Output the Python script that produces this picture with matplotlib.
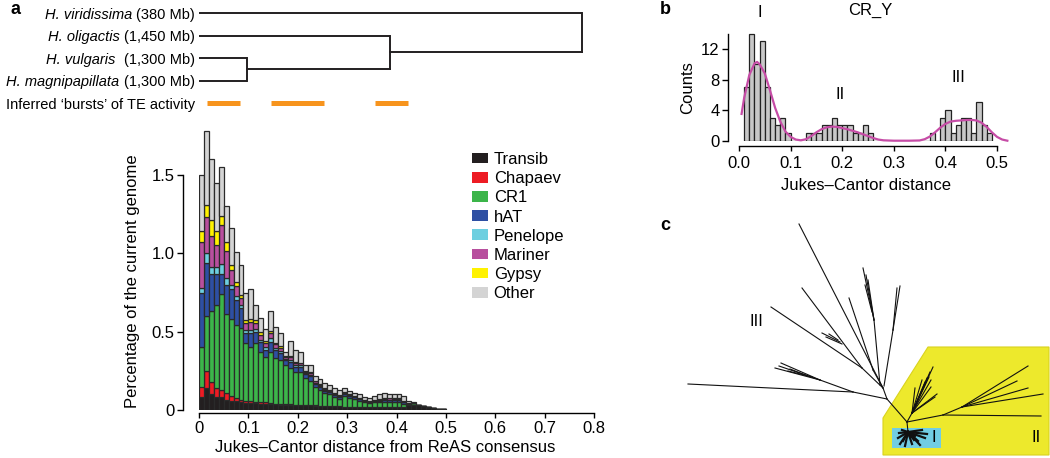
import matplotlib
matplotlib.use('Agg')
import matplotlib.pyplot as plt
from matplotlib.patches import Patch, Polygon, Rectangle
import numpy as np

plt.rcParams['font.family'] = ['Liberation Sans', 'DejaVu Sans']
plt.rcParams['axes.linewidth'] = 1.0

# ---------------- data: panel a (stacked TE histogram) ----------------
bin_width = 0.01
categories = ['Transib', 'Chapaev', 'CR1', 'hAT', 'Penelope', 'Mariner', 'Gypsy', 'Other']
colors = ['#231f20', '#ed1c24', '#3cb54a', '#2e4fa3', '#6dcfe0', '#b84f9e', '#fff200', '#d4d4d4']

transib = [.08, .14, .10, .08, .08, .065, .06, .055, .05, .045,
           .045, .043, .04, .04, .038, .036, .035, .034, .033, .032,
           .031, .03, .03, .028, .027, .026, .025, .024, .023, .022,
           .021, .02, .02, .019, .018, .018, .018, .018, .018, .018,
           .018, .02, .03, .035, .032, .028, .02, .012, .008, .004]
chapaev = [.07, .11, .08, .06, .05, .045, .03, .02, .015, .01,
           .01, .009, .008, .008, .006, .005, .004, .006, .003, .003,
           .003, .002, .002, .002, .001, .001, .001, .001, 0, 0,
           0, 0, 0, 0, 0, 0, 0, 0, 0, 0,
           0, 0, 0, 0, 0, 0, 0, 0, 0, 0]
cr1 = [.25, .35, .45, .53, .61, .50, .49, .47, .46, .37,
       .345, .374, .324, .288, .328, .289, .281, .247, .23, .21,
       .211, .17, .153, .119, .10, .079, .074, .06, .05, .068,
       .058, .05, .04, .03, .025, .03, .032, .035, .033, .035,
       .032, .02, .01, .008, 0, 0, 0, 0, 0, 0]
hat = [.345, .34, .24, .20, .13, .19, .19, .16, .125, .065,
       .09, .07, .06, .05, .065, .05, .045, .03, .04, .03,
       .03, .025, .03, .02, .02, .018, .015, .013, .012, .012,
       .01, .01, .01, .01, .008, .01, .01, .012, .012, .012,
       .012, .01, .004, .003, 0, 0, 0, 0, 0, 0]
penelope = [.035, .06, .04, .04, .06, .045, .03, .02, .02, .02,
            .02, .02, .018, .015, .02, .015, .012, .01, .012, .01,
            .01, .008, .008, .006, .006, .005, .005, .004, .004, .004,
            .004, .003, .003, .003, .003, .003, .003, .004, .004, .004,
            .004, .003, 0, 0, 0, 0, 0, 0, 0, 0]
mariner = [.29, .23, .20, .145, .25, .17, .095, .065, .045, .045,
           .05, .04, .03, .025, .035, .025, .02, .012, .018, .015,
           .012, .01, .012, .008, .008, .007, .006, .005, .005, .005,
           .004, .004, .004, .003, .003, .004, .006, .008, .007, .008,
           .007, .005, .002, 0, 0, 0, 0, 0, 0, 0]
gypsy = [.07, .08, .10, .085, .06, .055, .03, .03, .02, .02,
         .02, .02, .015, .012, .015, .01, .01, .006, .008, .006,
         .006, .005, .005, .004, .003, .003, .003, .003, .002, .002,
         .002, .002, .002, .002, .002, .002, .002, .002, .002, .002,
         .002, .002, 0, 0, 0, 0, 0, 0, 0, 0]
other = [.36, .47, .39, .31, .31, .23, .235, .19, .19, .17,
         .19, .094, .095, .082, .123, .10, .083, .025, .096, .074,
         .067, .04, .05, .033, .035, .031, .031, .03, .029, .027,
         .021, .021, .021, .018, .016, .023, .029, .031, .024, .026,
         .025, .03, .009, .007, 0, 0, 0, 0, 0, 0]
series = [transib, chapaev, cr1, hat, penelope, mariner, gypsy, other]
bin_left = [i * bin_width for i in range(len(transib))]

# dendrogram data
species = ['H. viridissima', 'H. oligactis', 'H. vulgaris ', 'H. magnipapillata']
sizes = ['(380 Mb)', '(1,450 Mb)', '(1,300 Mb)', '(1,300 Mb)']
node_vulg_magn = 0.097
node_olig = 0.387
node_root = 0.775
bursts = [(0.016, 0.084), (0.146, 0.253), (0.357, 0.424)]

# ---------------- data: panel b (CR_Y histogram) ----------------
b_bin_left = [0.01 + i * 0.01 for i in range(48)]
b_counts = [7, 14, 10, 13, 7, 3, 2, 3, 1, 0,
            0, 0, 1, 1, 1, 2, 2, 3, 2, 2,
            2, 1, 1, 2, 1, 0, 0, 0, 0, 0,
            0, 0, 0, 0, 0, 0, 1, 0, 3, 4,
            1, 2, 3, 3, 1, 5, 2, 1]
kde_x = [0.005, 0.01, 0.02, 0.03, 0.035, 0.04, 0.05, 0.06, 0.07, 0.08, 0.09, 0.10,
         0.11, 0.12, 0.13, 0.14, 0.15, 0.16, 0.17, 0.18, 0.19, 0.20, 0.21, 0.22,
         0.23, 0.24, 0.25, 0.26, 0.27, 0.28, 0.30, 0.33, 0.35, 0.36, 0.37, 0.38,
         0.39, 0.40, 0.41, 0.42, 0.43, 0.44, 0.45, 0.46, 0.47, 0.48, 0.49, 0.50,
         0.51, 0.52]
kde_y = [3.5, 5.6, 8.6, 10.1, 10.3, 10.0, 8.8, 6.6, 4.3, 2.5, 1.2, 0.5,
         0.15, 0.05, 0.2, 0.6, 1.1, 1.5, 1.75, 1.85, 1.8, 1.65, 1.5, 1.3,
         1.1, 0.85, 0.6, 0.35, 0.15, 0.05, 0.0, 0.0, 0.03, 0.2, 0.55, 1.1,
         1.7, 2.2, 2.5, 2.6, 2.65, 2.7, 2.72, 2.65, 2.35, 1.8, 1.1, 0.5,
         0.15, 0.0]

# ---------------- data: panel c (unrooted tree layout) ----------------
tree_segments = [
    (907, 422, 887, 399), (887, 399, 883, 388),
    (887, 399, 853, 392), (853, 392, 688, 384),
    (853, 392, 820, 380), (820, 380, 781, 363), (820, 380, 775, 368),
    (820, 380, 779, 366), (812, 377, 788, 371), (808, 376, 790, 369),
    (883, 388, 799, 224),
    (883, 388, 862, 368), (862, 368, 771, 307), (862, 368, 802, 288),
    (840, 342, 822, 333), (842, 344, 826, 337), (838, 340, 829, 334),
    (883, 388, 873, 370), (873, 370, 849, 298),
    (880, 385, 874, 320), (874, 320, 863, 268), (874, 320, 866, 275),
    (874, 320, 868, 280), (872, 312, 865, 285),
    (884, 386, 893, 330), (893, 330, 900, 286), (893, 330, 897, 288),
    (907, 422, 943, 415), (943, 415, 1041, 416),
    (943, 415, 962, 407), (962, 407, 1028, 366), (962, 407, 1017, 381),
    (962, 407, 1028, 388), (962, 407, 1043, 394),
    (907, 422, 912, 413),
    (912, 413, 933, 367), (912, 413, 929, 377), (912, 413, 927, 378),
    (912, 413, 937, 394), (912, 413, 935, 397), (912, 413, 931, 387),
    (912, 413, 915, 388), (912, 413, 925, 382), (912, 413, 931, 380),
    (912, 413, 930, 372), (912, 413, 922, 380),
    (907, 422, 908, 432),
]
blob_segments = [
    (908, 432, 898, 438), (908, 432, 900, 444), (908, 432, 905, 446),
    (908, 432, 912, 444), (908, 432, 918, 441), (908, 432, 925, 438),
    (908, 432, 927, 434), (908, 432, 922, 430), (908, 432, 902, 430),
    (908, 432, 899, 433), (908, 432, 915, 436), (908, 432, 920, 445),
    (908, 432, 903, 441), (908, 432, 914, 440), (908, 432, 910, 437),
]
yellow_region = [(883, 418), (928, 347), (1049, 347), (1049, 455), (883, 455)]
cyan_box = (892, 428, 941, 448)

# ---------------- figure ----------------
W, H = 1050, 458
fig = plt.figure(figsize=(10.5, 4.58), dpi=100)
PX = 72 / 100.0


def rect(l, t, r, b):
    return [l / W, 1 - b / H, (r - l) / W, (b - t) / H]


FS = 12
edge = '#2a2a2a'

# ---- panel a main
ax = fig.add_axes(rect(199, 128, 594, 410))
bottom = np.zeros(len(transib))
for vals, col in zip(series, colors):
    ax.bar(bin_left, vals, width=bin_width, bottom=bottom, align='edge',
           color=col, edgecolor=edge, linewidth=0.9)
    bottom = bottom + np.array(vals)
ax.set_xlim(0, 0.8)
ax.set_ylim(0, 1.8)
for s in ['top', 'right']:
    ax.spines[s].set_visible(False)
ax.spines['left'].set_position(('outward', 16 * PX))
ax.spines['bottom'].set_position(('outward', 3.3 * PX))
ax.spines['left'].set_bounds(0, 1.5)
ax.spines['bottom'].set_bounds(0, 0.8)
ax.set_yticks([0, 0.5, 1.0, 1.5])
ax.set_yticklabels(['0', '0.5', '1.0', '1.5'])
ax.set_xticks([0, 0.1, 0.2, 0.3, 0.4, 0.5, 0.6, 0.7, 0.8])
ax.set_xticklabels(['0', '0.1', '0.2', '0.3', '0.4', '0.5', '0.6', '0.7', '0.8'])
ax.tick_params(axis='y', direction='out', length=6.5 * PX, width=1, labelsize=FS, pad=2 * PX)
ax.tick_params(axis='x', direction='out', length=5 * PX, width=1, labelsize=FS, pad=3 * PX)
fig.text(385 / W, 1 - 447 / H, 'Jukes\u2013Cantor distance from ReAS consensus',
         ha='center', va='center', fontsize=FS)
fig.text(132 / W, 1 - 281 / H, 'Percentage of the current genome',
         ha='center', va='center', rotation=90, fontsize=FS)
handles = [Patch(facecolor=c, edgecolor='none') for c in colors]
ax.legend(handles, categories, loc='upper left', bbox_to_anchor=(472 / W, 1 - 152 / H),
          bbox_transform=fig.transFigure, frameon=False, fontsize=FS,
          handlelength=0.95, handleheight=0.6, handletextpad=0.35,
          labelspacing=0.25, borderpad=0, borderaxespad=0)

# ---- dendrogram
axd = fig.add_axes(rect(199, 0, 594, 115))
axd.set_xlim(0, 0.8)
axd.set_ylim(4.533, -0.578)
axd.axis('off')
lc = '#231f20'
lwd = 1.4
rows = [0, 1, 2, 3]
axd.plot([0, node_root], [0, 0], color=lc, lw=lwd, solid_capstyle='butt')
axd.plot([0, node_olig], [1, 1], color=lc, lw=lwd, solid_capstyle='butt')
axd.plot([0, node_vulg_magn], [2, 2], color=lc, lw=lwd, solid_capstyle='butt')
axd.plot([0, node_vulg_magn], [3, 3], color=lc, lw=lwd, solid_capstyle='butt')
y_vm = 2.5
y_ol = (1 + y_vm) / 2
axd.plot([node_vulg_magn, node_vulg_magn], [2, 3], color=lc, lw=lwd)
axd.plot([node_vulg_magn, node_olig], [y_vm, y_vm], color=lc, lw=lwd)
axd.plot([node_olig, node_olig], [1, y_vm], color=lc, lw=lwd)
axd.plot([node_olig, node_root], [y_ol, y_ol], color=lc, lw=lwd)
axd.plot([node_root, node_root], [0, y_ol], color=lc, lw=lwd)
for (b0, b1) in bursts:
    axd.plot([b0, b1], [4, 4], color='#f7941d', lw=5 * PX, solid_capstyle='butt')
LFS = 10.5
for r, sp, sz in zip(rows, species, sizes):
    t = axd.annotate(sz, xy=(0, r), xytext=(-4 * PX, 0), textcoords='offset points',
                     ha='right', va='center_baseline', fontsize=LFS)
    axd.annotate(sp, xy=(0, r), xycoords=(t, 'data'), xytext=(-3.2, 0),
                 textcoords='offset points', ha='right', va='center_baseline',
                 fontsize=LFS, style='italic')
axd.annotate('Inferred \u2018bursts\u2019 of TE activity', xy=(0, 4), xytext=(-4 * PX, 0),
             textcoords='offset points', ha='right', va='center_baseline', fontsize=LFS)

# ---- panel b
axb = fig.add_axes(rect(739, 29.8, 1012.5, 140.7))
axb.bar(b_bin_left, b_counts, width=0.01, align='edge', color='#c8c8c8',
        edgecolor='#222222', linewidth=0.9)
axb.plot(kde_x, kde_y, color='#c64ca6', lw=1.6, clip_on=False)
axb.set_xlim(0, 0.53)
axb.set_ylim(0, 14.5)
for s in ['top', 'right']:
    axb.spines[s].set_visible(False)
axb.spines['left'].set_position(('outward', 11 * PX))
axb.spines['bottom'].set_position(('outward', 5 * PX))
axb.spines['left'].set_bounds(0, 14)
axb.spines['bottom'].set_bounds(0, 0.5)
axb.set_yticks([0, 4, 8, 12])
axb.set_xticks([0, 0.1, 0.2, 0.3, 0.4, 0.5])
axb.set_xticklabels(['0.0', '0.1', '0.2', '0.3', '0.4', '0.5'])
axb.tick_params(axis='y', direction='out', length=6.5 * PX, width=1, labelsize=FS, pad=2 * PX)
axb.tick_params(axis='x', direction='out', length=5 * PX, width=1, labelsize=FS, pad=5 * PX)
fig.text(866 / W, 1 - 185 / H, 'Jukes\u2013Cantor distance', ha='center', va='center', fontsize=FS)
fig.text(688 / W, 1 - 88 / H, 'Counts', ha='center', va='center', rotation=90, fontsize=FS)
fig.text(870 / W, 1 - 10 / H, 'CR_Y', ha='center', va='center', fontsize=FS)
axb.text(0.04, 16.7, 'I', ha='center', va='center', fontsize=FS, clip_on=False)
axb.text(0.195, 6.0, 'II', ha='center', va='center', fontsize=FS, clip_on=False)
axb.text(0.425, 8.3, 'III', ha='center', va='center', fontsize=FS, clip_on=False)

# ---- panel c
axc = fig.add_axes(rect(660, 200, 1050, 458))
axc.set_xlim(660, 1050)
axc.set_ylim(458, 200)
axc.axis('off')
axc.add_patch(Polygon(yellow_region, closed=True, facecolor='#ede92c', edgecolor='#d9d21e', lw=0.8))
cx0, cy0, cx1, cy1 = cyan_box
axc.add_patch(Rectangle((cx0, cy0), cx1 - cx0, cy1 - cy0, facecolor='#71cde3', edgecolor='none'))
for (x0, y0, x1, y1) in tree_segments:
    axc.plot([x0, x1], [y0, y1], color='#111111', lw=0.8)
for (x0, y0, x1, y1) in blob_segments:
    axc.plot([x0, x1], [y0, y1], color='#111111', lw=1.6)
axc.text(756, 322, 'III', ha='center', va='center', fontsize=FS)
axc.text(934, 438, 'I', ha='center', va='center', fontsize=FS)
axc.text(1036, 438, 'II', ha='center', va='center', fontsize=FS)

# panel letters
fig.text(10 / W, 1 - 10 / H, 'a', ha='left', va='center', fontsize=13, fontweight='bold')
fig.text(660 / W, 1 - 10 / H, 'b', ha='left', va='center', fontsize=13, fontweight='bold')
fig.text(660 / W, 1 - 225 / H, 'c', ha='left', va='center', fontsize=13, fontweight='bold')

fig.savefig('out.png', dpi=100)
